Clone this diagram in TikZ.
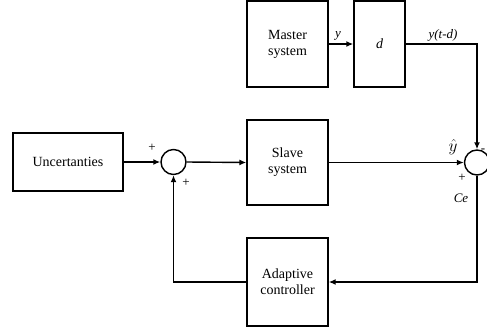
\documentclass[tikz,border=0pt]{standalone}
\usepackage{fontspec}
\setmainfont{Liberation Serif}
\usetikzlibrary{arrows.meta}

\begin{document}
\begin{tikzpicture}[x=1pt,y=-1pt,line width=1.4pt,
	blk/.style={draw,align=center,font=\fontsize{14}{16}\selectfont},
	sumnode/.style={draw,circle,minimum size=25pt,inner sep=0pt},
	lbl/.style={font=\fontsize{13}{15}\selectfont,inner sep=0pt},
	>={Latex[length=7pt,width=6pt]}]
	\useasboundingbox (0,0) rectangle (487,332);
	\node[blk,minimum width=110pt,minimum height=58pt] (unc) at (68,162) {Uncertanties};
	\node[sumnode] (suma) at (173.5,162) {};
	\node[blk,minimum width=81pt,minimum height=85pt] (slave) at (287.5,162.5) {Slave\\system};
	\node[blk,minimum width=81pt,minimum height=86pt] (master) at (287.5,44) {Master\\system};
	\node[blk,minimum width=51pt,minimum height=86pt] (delay) at (379.5,44) {\itshape d};
	\node[sumnode] (sumb) at (477,162.5) {};
	\node[blk,minimum width=81pt,minimum height=88pt] (ctrl) at (287.5,282) {Adaptive\\controller};
	\draw[->] (unc.east) -- (suma.west);
	\draw[->] (suma.east) -- (slave.west);
	\draw[->] (slave.east) -- (sumb.west);
	\draw[->] (master.east) -- (delay.west);
	\draw[->] (delay.east) -| (sumb.north);
	\draw[->] (sumb.south) |- (ctrl.east);
	\draw[->] (ctrl.west) -| (suma.south);
	% signs and signal names
	\node[lbl] (pa) at (152,148) {+};
	\node[lbl] (pb) at (186,183) {+};
	\node[lbl] (mb) at (483,151) {-};
	\node[lbl] (pc) at (462,178) {+};
	\node[lbl,font=\fontsize{16}{18}\selectfont] (yhat) at (453,147) {$\hat{y}$};
	\node[lbl] (ce) at (461,198) {\itshape Ce};
	\node[lbl] (ysig) at (338,36) {\itshape y};
	\node[lbl] (ydel) at (443,35) {\itshape y(t-d)};
\end{tikzpicture}
\end{document}
